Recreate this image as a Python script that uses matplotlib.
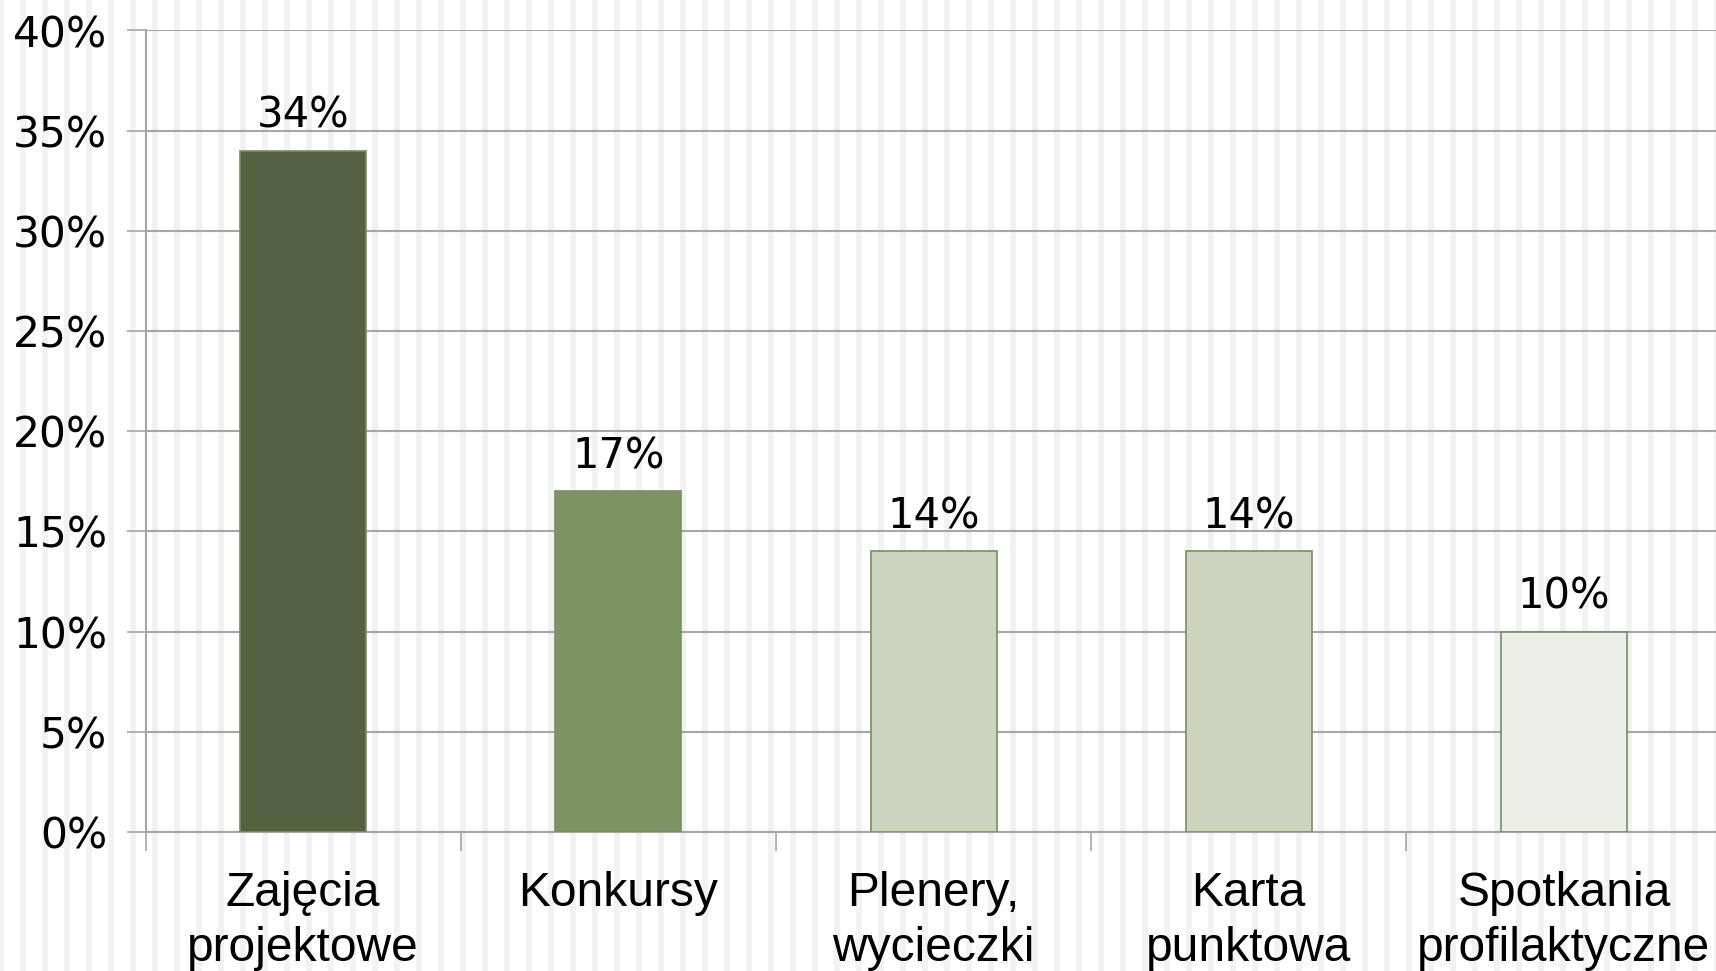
import matplotlib
matplotlib.use("Agg")
import matplotlib.pyplot as plt
import numpy as np

categories = ["Zajęcia\nprojektowe", "Konkursy", "Plenery,\nwycieczki", "Karta\npunktowa", "Spotkania\nprofilaktyczne"]
values = [0.34, 0.17, 0.14, 0.14, 0.10]
value_labels = ["34%", "17%", "14%", "14%", "10%"]
bar_colors = ["#546242", "#7e9363", "#cbd4bf", "#cbd4bf", "#eceee7"]
yticks = [0, 0.05, 0.10, 0.15, 0.20, 0.25, 0.30, 0.35, 0.40]
ytick_labels = ["0%", "5%", "10%", "15%", "20%", "25%", "30%", "35%", "40%"]

W, H = 1716, 971
fig = plt.figure(figsize=(W / 100, H / 100), dpi=100)
fig.patch.set_facecolor("white")

# striped background
bg = fig.add_axes([0, 0, 1, 1], zorder=0)
bg.set_xlim(0, W)
bg.set_ylim(0, H)
bg.axis("off")
for x0 in np.arange(-2, W, 22):
    bg.axvspan(x0, x0 + 6, color="#f2f2f2", lw=0)

GRID = "#a6a6a6"
ax = fig.add_axes([145.6 / W, 139 / H, 1576 / W, 801.5 / H], zorder=1)
ax.patch.set_alpha(0)
x = np.arange(len(categories))
ax.bar(x, values, width=0.40, color=bar_colors, edgecolor="#7a8c64", linewidth=1.2, zorder=3)
ax.set_xlim(-0.5, len(categories) - 0.5)
ax.set_ylim(0, 0.40)
ax.set_yticks(yticks)
ax.set_yticklabels(ytick_labels, fontsize=30.5, family="DejaVu Sans")
ax.yaxis.grid(True, color=GRID, linewidth=1.5, zorder=1)
ax.set_axisbelow(True)
ax.tick_params(axis="y", length=14, width=1.2, color=GRID, pad=13.5)

ax.set_xticks(x)
ax.set_xticklabels(categories, fontsize=34.5, family="Liberation Sans", linespacing=1.3)
ax.set_xticks(np.arange(-0.5, len(categories) - 0.5, 1), minor=True)
ax.tick_params(axis="x", which="major", length=0, pad=28)
ax.tick_params(axis="x", which="minor", length=14, width=1.2, color=GRID)

for s in ["top", "right"]:
    ax.spines[s].set_visible(False)
for s in ["left", "bottom"]:
    ax.spines[s].set_color(GRID)
    ax.spines[s].set_linewidth(1.5)

for xi, v, lab in zip(x, values, value_labels):
    ax.annotate(lab, (xi, v), xytext=(0, 16.5), textcoords="offset points",
                ha="center", va="baseline", fontsize=30, family="DejaVu Sans")

fig.savefig("out.png", dpi=100)
